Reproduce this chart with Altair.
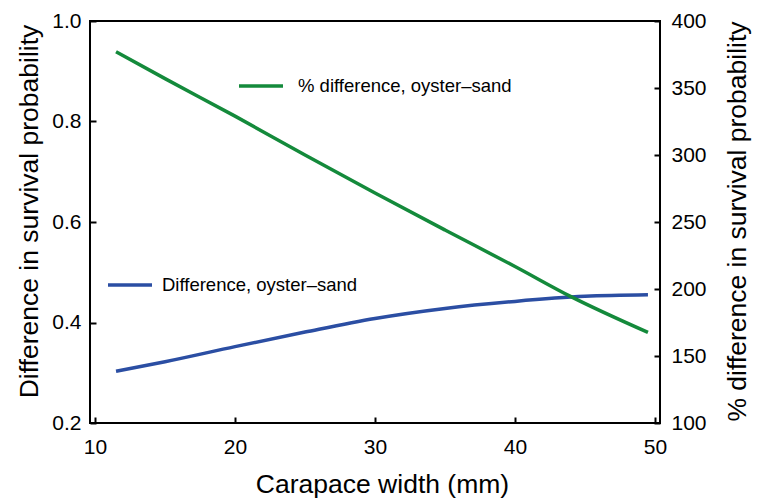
import altair as alt
import pandas as pd

# ---- data ----
diff_x = [11.5, 15, 20, 25, 30, 35, 40, 45, 49.5]
diff_values = [0.303, 0.322, 0.352, 0.381, 0.408, 0.428, 0.442, 0.452, 0.455]
pct_x = [11.5, 15, 20, 25, 30, 35, 40, 44, 49.5]
pct_values = [377, 357, 329, 300, 271.6, 244, 216.8, 194.3, 167.6]
series_names = ["Difference, oyster\u2013sand", "% difference, oyster\u2013sand"]
x_ticks = [10, 20, 30, 40, 50]
left_ticks = [0.2, 0.4, 0.6, 0.8, 1.0]
right_ticks = [100, 150, 200, 250, 300, 350, 400]

BLUE = "#2b4ea3"
GREEN = "#148a3b"
FONT = "Liberation Sans"
LABEL_SIZE = 21
TITLE_SIZE = 26.5

df_diff = pd.DataFrame({"x": diff_x, "v": diff_values, "series": series_names[0]})
df_pct = pd.DataFrame({"x": pct_x, "v": pct_values, "series": series_names[1]})

x_enc = alt.X(
    "x:Q",
    scale=alt.Scale(domain=[9.64, 50.36], nice=False, zero=False),
    axis=alt.Axis(
        values=x_ticks, offset=-6, domain=False, tickSize=6, tickWidth=2,
        tickColor="black", labelPadding=13, labelFontSize=LABEL_SIZE,
        labelFlush=False, labelColor="black", grid=False,
        title="Carapace width (mm)", titleFontSize=TITLE_SIZE,
        titleFontWeight="normal", titleColor="black", format="d",
        titleX=292, titleY=75, titleAlign="center", titleBaseline="alphabetic",
    ),
)


def leg(x, y, offset):
    return alt.Legend(
        orient="none", legendX=x, legendY=y, title=None, symbolType="stroke",
        symbolSize=1936, symbolStrokeWidth=3.5, labelFontSize=18.5,
        labelFont=FONT, labelColor="black", labelOffset=offset, padding=0,
        labelLimit=400,
    )


blue = alt.Chart(df_diff).mark_line(strokeWidth=3.5, interpolate="monotone").encode(
    x=x_enc,
    y=alt.Y(
        "v:Q",
        scale=alt.Scale(domain=[0.2, 1.0], nice=False, zero=False),
        axis=alt.Axis(
            orient="left", values=left_ticks, offset=-6, domain=False,
            tickSize=6, tickWidth=2, tickColor="black", labelPadding=9,
            labelFontSize=LABEL_SIZE, labelColor="black", grid=False,
            format=".1f", title="Difference in survival probability",
            titleFontSize=TITLE_SIZE, titleFontWeight="normal",
            titleColor="black", titleAngle=270, titleX=-67, titleY=190,
            titleAlign="center", titleBaseline="middle",
        ),
    ),
    color=alt.Color(
        "series:N",
        scale=alt.Scale(domain=[series_names[0]], range=[BLUE]),
        legend=leg(16, 240, 8),
    ),
)

green = alt.Chart(df_pct).mark_line(strokeWidth=3.5, interpolate="monotone").encode(
    x=x_enc,
    y=alt.Y(
        "v:Q",
        scale=alt.Scale(domain=[100, 400], nice=False, zero=False),
        axis=alt.Axis(
            orient="right", values=right_ticks, offset=-6, domain=False,
            tickSize=6, tickWidth=2, tickColor="black", labelPadding=11,
            labelFontSize=LABEL_SIZE, labelColor="black", grid=False,
            format="d", title="% difference in survival probability",
            titleFontSize=TITLE_SIZE, titleFontWeight="normal",
            titleColor="black", titleAngle=270, titleX=83, titleY=200,
            titleAlign="center", titleBaseline="middle",
        ),
    ),
    color=alt.Color(
        "series:N",
        scale=alt.Scale(domain=[series_names[1]], range=[GREEN]),
        legend=leg(147, 41, 13),
    ),
)

chart = (
    alt.layer(blue, green)
    .resolve_scale(y="independent", color="independent")
    .properties(
        width=570, height=402,
        autosize=alt.AutoSizeParams(type="none"),
        padding={"left": 82, "top": 13, "right": 92, "bottom": 80},
        background="white",
    )
    .configure(font=FONT)
    .configure_view(stroke="black", strokeWidth=2)
)

chart.save("out.html", embed_options={"renderer": "svg", "actions": False})
